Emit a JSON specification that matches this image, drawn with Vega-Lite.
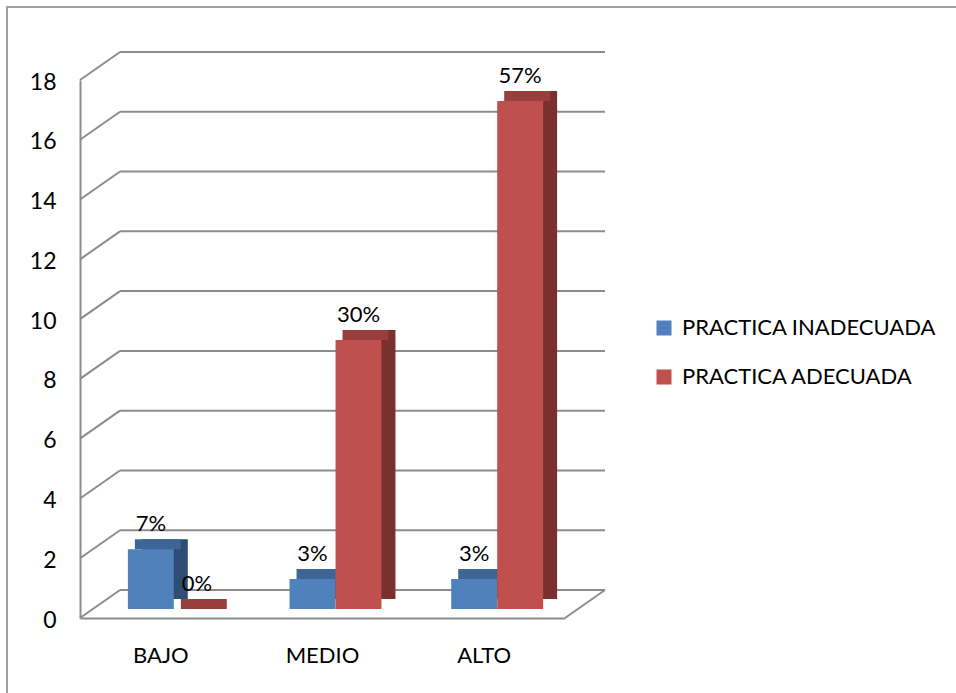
{
  "$schema": "https://vega.github.io/schema/vega-lite/v6.json",
  "autosize": {"type": "none"},
  "width": 485,
  "height": 538,
  "padding": {"left": 80, "top": 80, "right": 391, "bottom": 75},
  "background": "white",
  "config": {
    "view": {"stroke": null},
    "font": "Lato",
    "axis": {"labelFont": "Lato", "labelColor": "#000000"}
  },
  "datasets": {
    "bars": [
      {"nivel": "BAJO", "serie": "PRACTICA INADECUADA", "valor": 2, "pct": "7%"},
      {"nivel": "BAJO", "serie": "PRACTICA ADECUADA", "valor": 0, "pct": "0%"},
      {"nivel": "MEDIO", "serie": "PRACTICA INADECUADA", "valor": 1, "pct": "3%"},
      {"nivel": "MEDIO", "serie": "PRACTICA ADECUADA", "valor": 9, "pct": "30%"},
      {"nivel": "ALTO", "serie": "PRACTICA INADECUADA", "valor": 1, "pct": "3%"},
      {"nivel": "ALTO", "serie": "PRACTICA ADECUADA", "valor": 17, "pct": "57%"}
    ],
    "grid": [
      {"g": 0}, {"g": 2}, {"g": 4}, {"g": 6}, {"g": 8},
      {"g": 10}, {"g": 12}, {"g": 14}, {"g": 16}, {"g": 18}
    ]
  },
  "resolve": {"scale": {"x": "independent"}},
  "layer": [
    {
      "data": {"values": [{"b": 1}]},
      "mark": {"type": "rect", "fill": null, "stroke": "#a0a0a0", "strokeWidth": 2,
               "xOffset": -73, "yOffset": -73, "x2Offset": 420, "y2Offset": 90},
      "encoding": {
        "x": {"datum": 0, "type": "quantitative", "scale": {"domain": [0, 1], "nice": false, "zero": false}, "axis": null},
        "x2": {"datum": 1},
        "y": {"datum": 18, "type": "quantitative"},
        "y2": {"datum": 0}
      }
    },
    {
      "data": {"name": "grid"},
      "layer": [
        {
          "mark": {"type": "rule", "stroke": "#8c8c8c", "strokeWidth": 2, "x2Offset": 40, "y2Offset": -28},
          "encoding": {
            "x": {"datum": 0, "type": "quantitative", "scale": {"domain": [0, 1], "nice": false, "zero": false}, "axis": null},
            "x2": {"datum": 0},
            "y": {"field": "g", "type": "quantitative"},
            "y2": {"field": "g"}
          }
        },
        {
          "mark": {"type": "rule", "stroke": "#8c8c8c", "strokeWidth": 2, "xOffset": 40, "x2Offset": 40, "yOffset": -28, "y2Offset": -28},
          "encoding": {
            "x": {"datum": 0, "type": "quantitative", "scale": {"domain": [0, 1], "nice": false, "zero": false}, "axis": null},
            "x2": {"datum": 1},
            "y": {"field": "g", "type": "quantitative"},
            "y2": {"field": "g"}
          }
        },
        {
          "transform": [{"filter": "datum.g == 0"}],
          "mark": {"type": "rule", "stroke": "#8c8c8c", "strokeWidth": 2, "x2Offset": 40, "y2Offset": -28},
          "encoding": {
            "x": {"datum": 1, "type": "quantitative", "scale": {"domain": [0, 1], "nice": false, "zero": false}, "axis": null},
            "x2": {"datum": 1},
            "y": {"field": "g", "type": "quantitative"},
            "y2": {"field": "g"}
          }
        }
      ]
    },
    {
      "data": {"name": "bars"},
      "encoding": {
        "x": {
          "field": "nivel", "type": "nominal", "sort": ["BAJO", "MEDIO", "ALTO"],
          "scale": {"paddingInner": 0.432, "paddingOuter": 0.216},
          "axis": {"title": null, "labelAngle": 0, "ticks": false, "domainColor": "#8c8c8c", "domainWidth": 2,
                   "labelFontSize": 22, "labelPadding": 27, "labelColor": "#000000"}
        },
        "y": {
          "field": "valor", "type": "quantitative", "stack": null,
          "scale": {"domain": [0, 18], "nice": false},
          "axis": {"title": null, "values": [0, 2, 4, 6, 8, 10, 12, 14, 16, 18], "grid": false, "ticks": false,
                   "domainColor": "#8c8c8c", "domainWidth": 2, "labelFontSize": 23, "labelPadding": 24, "labelOffset": 2, "labelColor": "#000000"}
        },
        "color": {"field": "serie", "type": "nominal",
                  "scale": {"domain": ["PRACTICA INADECUADA", "PRACTICA ADECUADA"], "range": ["#4f81bd", "#c0504d"]},
                  "legend": {"title": null, "orient": "none", "legendX": 573, "legendY": 237,
                             "symbolType": "square", "symbolSize": 225, "symbolStrokeWidth": 0,
                             "labelFont": "Lato", "labelFontSize": 22, "labelColor": "#000000", "labelLimit": 0,
                             "labelOffset": 7, "rowPadding": 27, "padding": 0}}
      },
      "layer": [
        {
          "transform": [{"filter": "datum.serie == 'PRACTICA INADECUADA'"}],
          "layer": [
            {
              "mark": {"type": "bar", "width": {"band": 0.5}, "xOffset": 4, "yOffset": -19, "y2Offset": -19},
              "encoding": {"y2": {"datum": 0}, "color": {"value": "#2f4d73"}}
            },
            {
              "mark": {"type": "bar", "width": {"band": 0.5}, "xOffset": -3, "yOffset": -19, "y2Offset": -9},
              "encoding": {"y2": {"field": "valor"}, "color": {"value": "#3d6697"}}
            },
            {
              "mark": {"type": "bar", "width": {"band": 0.5}, "xOffset": -10, "yOffset": -9, "y2Offset": -9},
              "encoding": {"y2": {"datum": 0}}
            },
            {
              "mark": {"type": "text", "xOffset": -10, "yOffset": -34, "baseline": "middle", "font": "Lato", "fontSize": 22, "color": "#000000"},
              "encoding": {"text": {"field": "pct"}, "color": {"value": "#000000"}}
            }
          ]
        },
        {
          "transform": [{"filter": "datum.serie == 'PRACTICA ADECUADA'"}],
          "layer": [
            {
              "mark": {"type": "bar", "width": {"band": 0.5}, "xOffset": 50, "yOffset": -19, "y2Offset": -19},
              "encoding": {"y2": {"datum": 0}, "color": {"value": "#7a302f"}}
            },
            {
              "mark": {"type": "bar", "width": {"band": 0.5}, "xOffset": 43, "yOffset": -19, "y2Offset": -9},
              "encoding": {"y2": {"field": "valor"}, "color": {"value": "#983e3c"}}
            },
            {
              "mark": {"type": "bar", "width": {"band": 0.5}, "xOffset": 36, "yOffset": -9, "y2Offset": -9},
              "encoding": {"y2": {"datum": 0}}
            },
            {
              "mark": {"type": "text", "xOffset": 36, "yOffset": -34, "baseline": "middle", "font": "Lato", "fontSize": 22, "color": "#000000"},
              "encoding": {"text": {"field": "pct"}, "color": {"value": "#000000"}}
            }
          ]
        }
      ]
    }
  ]
}
